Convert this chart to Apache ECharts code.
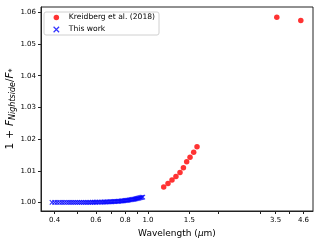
<!DOCTYPE html>
<html><head><meta charset="utf-8">
<script src="https://cdn.jsdelivr.net/npm/echarts@6/dist/echarts.min.js"></script>
<style>html,body{margin:0;padding:0;background:#fff;overflow:hidden}#c{width:322px;height:243px}</style>
</head><body><div id="c"></div>
<script>
// Kreidberg et al. (2018)
const kreidbergWave = [1.167, 1.217, 1.266, 1.316, 1.369, 1.416, 1.462, 1.511, 1.566, 1.618, 3.54, 4.48];
const kreidbergFlux = [1.00484, 1.00601, 1.00706, 1.00823, 1.00949, 1.01095, 1.01285, 1.01424, 1.01582, 1.01759, 1.0585, 1.0574];
// This work
const thisWave = [0.39,0.40,0.41,0.42,0.43,0.44,0.45,0.46,0.47,0.48,0.49,0.50,0.51,0.52,0.53,0.54,0.55,0.56,0.57,0.58,0.59,
  0.60,0.61,0.62,0.63,0.64,0.65,0.66,0.67,0.68,0.69,0.70,0.71,0.72,0.73,0.74,0.75,0.76,0.77,0.78,0.79,
  0.80,0.81,0.82,0.83,0.84,0.85,0.86,0.87,0.88,0.89,0.90,0.91,0.92,0.93,0.94,0.95];
const thisFlux = [1.00000,1.00000,1.00000,1.00000,1.00000,1.00000,1.00000,1.00000,1.00000,1.00000,1.00001,1.00001,1.00001,1.00001,1.00002,1.00002,1.00003,1.00004,1.00004,1.00005,1.00006,
  1.00007,1.00008,1.00009,1.00010,1.00012,1.00013,1.00015,1.00017,1.00019,1.00021,1.00023,1.00026,1.00029,1.00032,1.00035,1.00039,1.00043,1.00047,1.00051,1.00055,
  1.00060,1.00065,1.00070,1.00076,1.00082,1.00088,1.00095,1.00102,1.00109,1.00117,1.00125,1.00133,1.00142,1.00151,1.00160,1.00170];
// Tick labels
const xTickLabels = [0.4, 0.6, 0.8, 1.0, 1.5, 3.5, 4.6];
const xTickMarks = [0.4, 0.5, 0.6, 0.7, 0.8, 0.9, 1.0, 1.5, 2, 3, 3.5, 4, 4.6];
const yTickLabels = [1.00, 1.01, 1.02, 1.03, 1.04, 1.05, 1.06];

const FONT = 'DejaVu Sans';
const xPath = 'path://M0,0L10,10M10,0L0,10';
const chart = echarts.init(document.getElementById('c'), null, {renderer: 'canvas'});
chart.setOption({
  animation: false,
  textStyle: {fontFamily: FONT},
  grid: {left: 41, right: 9, top: 7, bottom: 32, containLabel: false, outerBoundsMode: 'none',
    show: true, borderColor: '#222', borderWidth: 1, backgroundColor: 'transparent'},
  legend: {
    left: 44, top: 12, orient: 'vertical',
    padding: [1, 4, 1, 9],
    itemWidth: 15, itemHeight: 5.5, itemGap: 3,
    borderColor: '#d0d0d0', borderWidth: 1, borderRadius: 2,
    textStyle: {fontFamily: FONT, fontSize: 7.6, color: '#000', lineHeight: 9},
    data: [
      {name: 'Kreidberg et al. (2018)', icon: 'circle'},
      {name: 'This work', icon: xPath, itemStyle: {color: '#0000ff', borderColor: '#0000ff', borderWidth: 1.2}}
    ]
  },
  xAxis: {
    type: 'log', logBase: 10, min: 0.35, max: 5.05,
    name: '{a|Wavelength (}{i|μ}{a|m)}', nameLocation: 'middle', nameGap: 16,
    nameTextStyle: {rich: {a: {fontFamily: FONT, fontSize: 9, color: '#000'}, i: {fontFamily: FONT, fontSize: 9, fontStyle: 'italic', color: '#000'}}},
    axisLine: {show: true, lineStyle: {color: '#222', width: 1}},
    axisTick: {show: true, inside: false, length: 3, lineStyle: {color: '#222'}, customValues: xTickMarks},
    axisLabel: {fontFamily: FONT, fontSize: 7, color: '#000', margin: 6, customValues: xTickLabels,
      formatter: v => { const r = Math.round(v * 10) / 10; return r.toFixed(1); }},
    splitLine: {show: false}, minorTick: {show: false}
  },
  yAxis: {
    type: 'value', min: 0.9973, max: 1.0617,
    name: '{a|1}{p|+}{i|F}{s|Nightside}{a|/}{i|F}{s|*}', nameLocation: 'middle', nameGap: 24, nameRotate: 90,
    nameMoveOverlap: false,
    nameTextStyle: {rich: {
      a: {fontFamily: FONT, fontSize: 10.5, color: '#000'},
      p: {fontFamily: FONT, fontSize: 10.5, color: '#000', padding: [0, 4, 0, 4]},
      i: {fontFamily: FONT, fontSize: 10.5, fontStyle: 'italic', color: '#000'},
      s: {fontFamily: FONT, fontSize: 8, fontStyle: 'italic', color: '#000', verticalAlign: 'bottom', padding: [5, 0, 0, 0]}
    }},
    axisLine: {show: true, lineStyle: {color: '#222', width: 1}},
    axisTick: {show: true, inside: false, length: 3, lineStyle: {color: '#222'}, customValues: yTickLabels},
    axisLabel: {fontFamily: FONT, fontSize: 7, color: '#000', margin: 5, customValues: yTickLabels,
      formatter: v => v.toFixed(2)},
    splitLine: {show: false}
  },
  series: [
    {
      name: 'Kreidberg et al. (2018)', type: 'scatter', symbol: 'circle', symbolSize: 5.5,
      itemStyle: {color: '#ff0000'},
      data: kreidbergWave.map((w, i) => [w, kreidbergFlux[i]]), z: 3
    },
    {
      name: 'This work', type: 'scatter', symbol: xPath, symbolSize: 4.5,
      itemStyle: {color: '#0000ff', borderColor: '#0000ff', borderWidth: 1.2},
      data: thisWave.map((w, i) => [w, thisFlux[i]]), z: 2
    }
  ]
});
</script></body></html>
